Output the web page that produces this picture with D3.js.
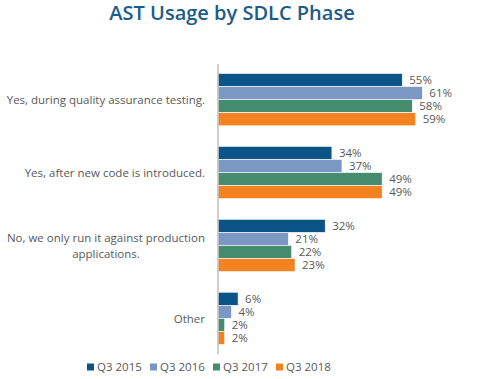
<!DOCTYPE html>
<html>
<head>
<meta charset="utf-8">
<script src="https://cdn.jsdelivr.net/npm/d3@7"></script>
<style>
html,body{margin:0;padding:0;background:#fff;}
svg{display:block;font-family:"Open Sans","Noto Sans",sans-serif;}
</style>
</head>
<body>
<svg id="chart" width="491" height="379"></svg>
<script>
const title = "AST Usage by SDLC Phase";
const categories = [
  ["Yes, during quality assurance testing."],
  ["Yes, after new code is introduced."],
  ["No, we only run it against production", "applications."],
  ["Other"]
];
const seriesNames = ["Q3 2015", "Q3 2016", "Q3 2017", "Q3 2018"];
const seriesColors = ["#0b5487", "#7b97c4", "#468c6e", "#f58220"];
const q3_2015 = [55, 34, 32, 6];
const q3_2016 = [61, 37, 21, 4];
const q3_2017 = [58, 49, 22, 2];
const q3_2018 = [59, 49, 23, 2];
const seriesValues = [q3_2015, q3_2016, q3_2017, q3_2018];

const svg = d3.select("#chart");
const catKeys = categories.map((c, i) => i);

const y = d3.scaleBand().domain(catKeys).range([64, 354]).paddingInner(0.283).paddingOuter(0.13);
const ySub = d3.scaleBand().domain(d3.range(seriesNames.length)).range([0, y.bandwidth()]);
const x = d3.scaleLinear().domain([0, 80]).range([218, 486]);

// title
svg.append("text").attr("x", 232).attr("y", 20).attr("text-anchor", "middle")
  .attr("font-size", 20).attr("font-weight", 600).attr("fill", "#1b5c88").text(title);

// bars
const groups = svg.selectAll("g.grp").data(catKeys).join("g").attr("class", "grp")
  .attr("transform", d => `translate(0,${y(d)})`);

groups.each(function(ci) {
  const g = d3.select(this);
  seriesValues.forEach((vals, si) => {
    const v = vals[ci];
    g.append("rect").attr("x", x(0)).attr("y", ySub(si))
      .attr("width", x(v) - x(0)).attr("height", ySub.bandwidth())
      .attr("fill", seriesColors[si]).attr("stroke", "#fff").attr("stroke-width", 0.6);
    g.append("text").attr("x", x(v) + 7).attr("y", ySub(si) + ySub.bandwidth() / 2)
      .attr("dy", "0.36em").attr("font-size", 11.5).attr("fill", "#595959").text(v + "%");
  });
  const lines = categories[ci];
  const lh = 16;
  lines.forEach((ln, li) => {
    g.append("text").attr("x", lines.length > 1 ? 114 : 205)
      .attr("text-anchor", lines.length > 1 && li > 0 ? "middle" : "end")
      .attr("y", y.bandwidth() / 2 + (li - (lines.length - 1) / 2) * lh)
      .attr("dy", "0.36em").attr("font-size", 11.5).attr("fill", "#595959").text(ln);
  });
});

// fix multi-line alignment: first line right-aligned at 205, subsequent centred under it
groups.each(function(ci) {
  const lines = categories[ci];
  if (lines.length > 1) {
    const texts = d3.select(this).selectAll("text").filter(function(){ return this.getAttribute("x") === "114"; });
    const first = texts.nodes()[0];
    first.setAttribute("x", 205);
    const bb = first.getBBox();
    const cx = bb.x + bb.width / 2;
    texts.nodes().slice(1).forEach(n => n.setAttribute("x", cx));
  }
});

// axis line
svg.append("line").attr("x1", x(0)).attr("x2", x(0)).attr("y1", 64).attr("y2", 354)
  .attr("stroke", "#bfbfbf").attr("stroke-width", 1.5);

// legend
const legX = [87, 150, 213, 276];
const leg = svg.selectAll("g.leg").data(seriesNames).join("g").attr("class", "leg")
  .attr("transform", (d, i) => `translate(${legX[i]},367)`);
leg.append("rect").attr("x", 0).attr("y", -3.5).attr("width", 7).attr("height", 7)
  .attr("fill", (d, i) => seriesColors[i]);
leg.append("text").attr("x", 10).attr("dy", "0.36em").attr("font-size", 11.5)
  .attr("fill", "#595959").text(d => d);
</script>
</body>
</html>
